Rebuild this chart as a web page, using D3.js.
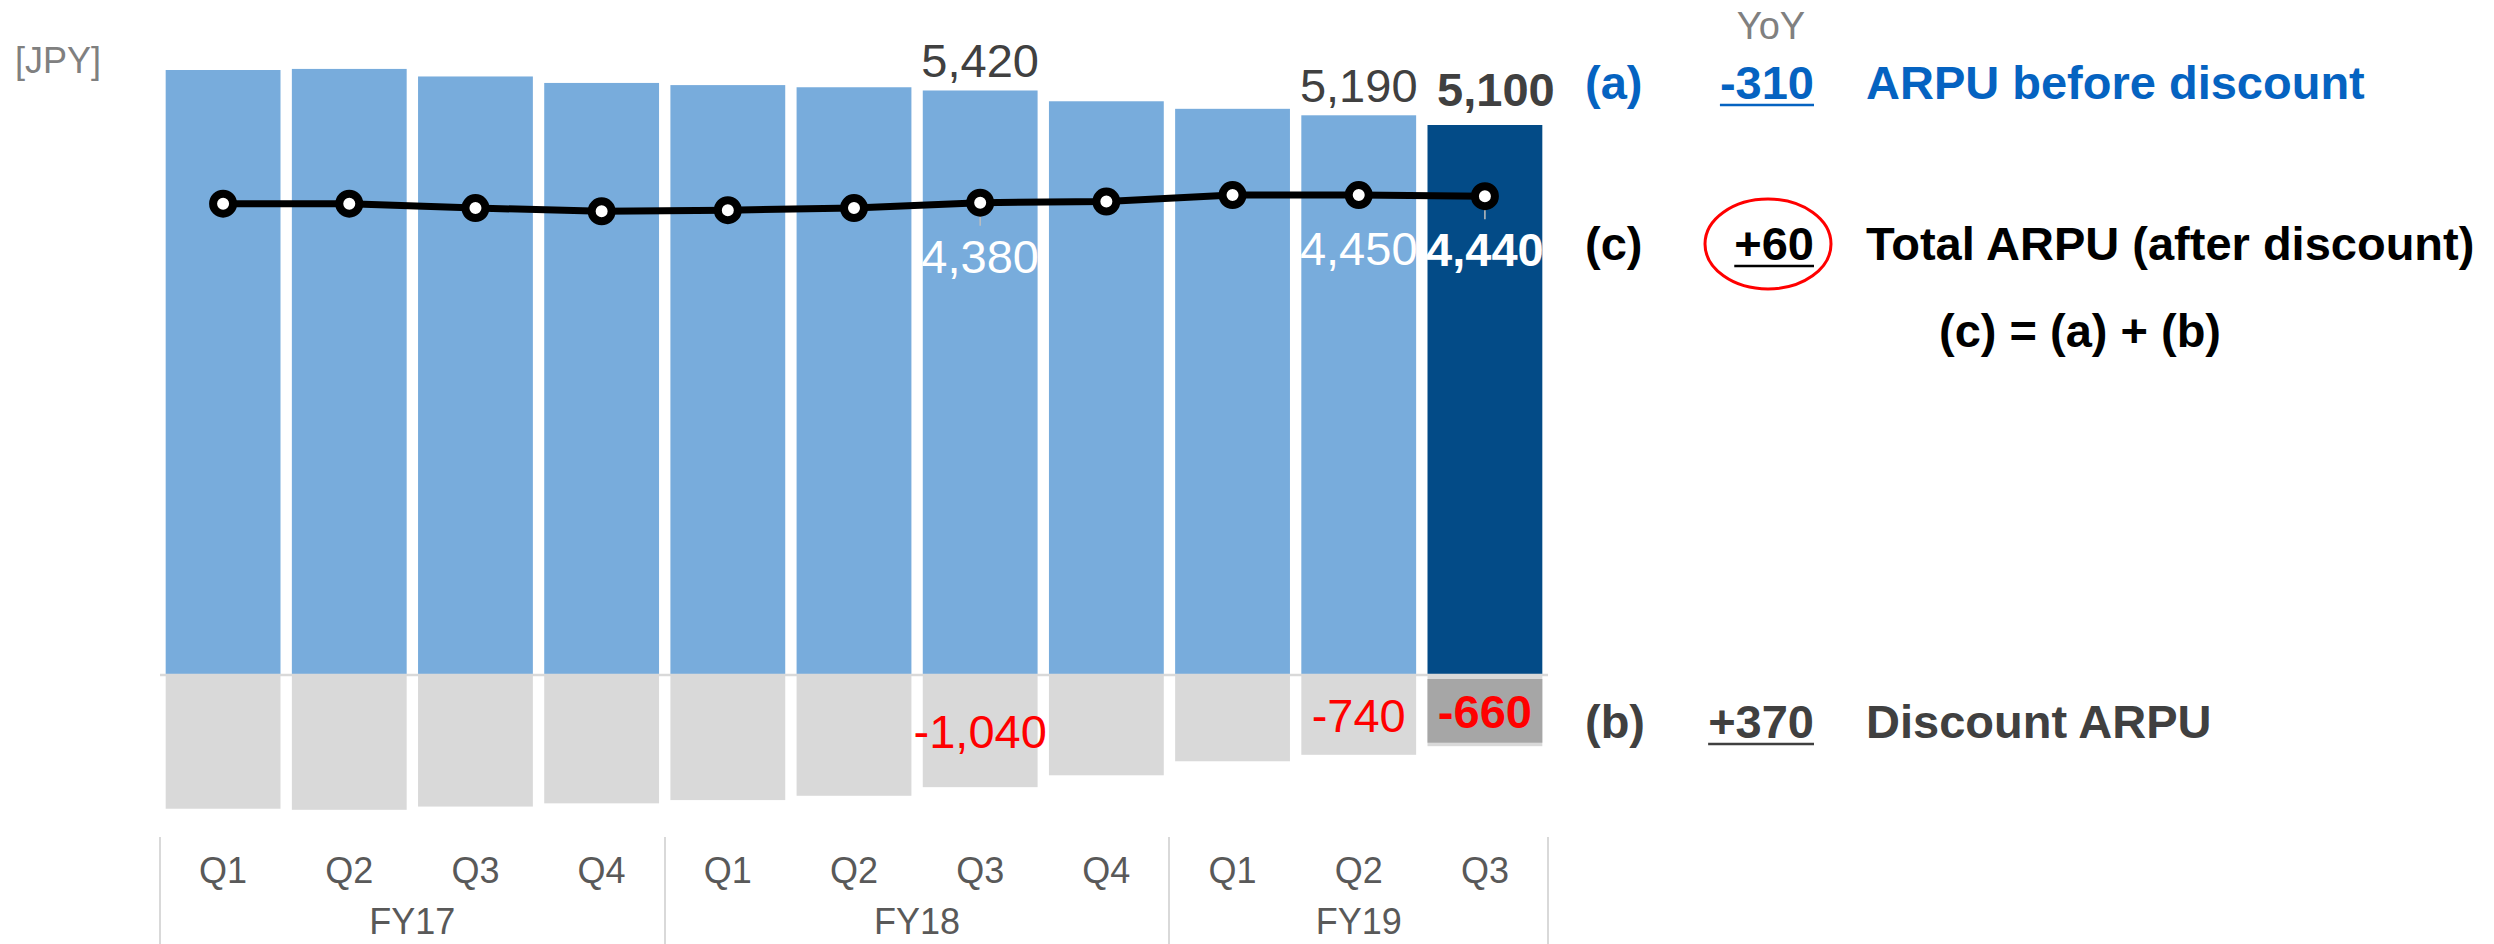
<!DOCTYPE html>
<html>
<head>
<meta charset="utf-8">
<script src="https://cdn.jsdelivr.net/npm/d3@7"></script>
<style>
  body { margin: 0; background: #fff; }
  svg { display: block; font-family: "Liberation Sans", Arial, sans-serif; }
</style>
</head>
<body>
<svg id="chart" width="2494" height="944"></svg>
<script>
// data
const quarters = ["Q1", "Q2", "Q3", "Q4", "Q1", "Q2", "Q3", "Q4", "Q1", "Q2", "Q3"];
const fiscalYears = ["FY17", "FY17", "FY17", "FY17", "FY18", "FY18", "FY18", "FY18", "FY19", "FY19", "FY19"];
const beforeDiscount = [5610, 5620, 5550, 5490, 5470, 5450, 5420, 5320, 5250, 5190, 5100];
const discount = [-1240, -1250, -1220, -1190, -1160, -1120, -1040, -930, -800, -740, -660];
const totalArpu = [4370, 4370, 4330, 4300, 4310, 4330, 4380, 4390, 4450, 4450, 4440];
const labeled = [6, 9, 10];   // quarters with value labels
const current = 10;           // latest quarter, highlighted

const rowKeys = ["(a)", "(c)", "(b)"];
const yoyValues = ["-310", "+60", "+370"];
const rowNames = ["ARPU before discount", "Total ARPU (after discount)", "Discount ARPU"];

const keys = quarters.map((q, i) => fiscalYears[i] + " " + q);
const fmt = d3.formatLocale({ decimal: ".", thousands: ",", grouping: [3], currency: ["", ""], minus: "-" }).format(",");

const svg = d3.select("#chart");

const x = d3.scaleBand().domain(keys).range([160, 1548]).paddingInner(0.09).paddingOuter(0.045);
const y = d3.scaleLinear().domain([-1300, 5700]).range([675 + 1300 * 550 / 5100, 675 - 5700 * 550 / 5100]);
const bw = x.bandwidth();
const gap = x.step() - bw;

// bars
svg.append("g").selectAll("rect").data(beforeDiscount).join("rect")
  .attr("x", (d, i) => x(keys[i]))
  .attr("y", d => y(d))
  .attr("width", bw)
  .attr("height", d => y(0) - y(d))
  .attr("fill", (d, i) => i === current ? "#034b87" : "#78acdc");

svg.append("g").selectAll("rect").data(discount).join("rect")
  .attr("x", (d, i) => x(keys[i]))
  .attr("y", y(0) + 1)
  .attr("width", bw)
  .attr("height", d => y(d) - y(0) - 1)
  .attr("fill", "#d9d9d9");

// zero line
svg.append("line")
  .attr("x1", 160).attr("x2", 1548)
  .attr("y1", y(0)).attr("y2", y(0))
  .attr("stroke", "#d9d9d9").attr("stroke-width", 2.5);

// box behind the current discount label
svg.append("rect")
  .attr("x", x(keys[current]))
  .attr("y", y(0) + 4)
  .attr("width", bw)
  .attr("height", y(discount[current]) - y(0) - 7.5)
  .attr("fill", "#a6a6a6");

// leader lines for the total labels
[6, 10].forEach(i => {
  svg.append("line")
    .attr("x1", x(keys[i]) + bw / 2).attr("x2", x(keys[i]) + bw / 2)
    .attr("y1", y(totalArpu[i])).attr("y2", y(totalArpu[i]) + 23)
    .attr("stroke", "#bfbfbf").attr("stroke-width", 1.5);
});

// total ARPU line
const line = d3.line().x((d, i) => x(keys[i]) + bw / 2).y(d => y(d));
svg.append("path").datum(totalArpu)
  .attr("d", line)
  .attr("fill", "none")
  .attr("stroke", "#000")
  .attr("stroke-width", 7);

svg.append("g").selectAll("circle").data(totalArpu).join("circle")
  .attr("cx", (d, i) => x(keys[i]) + bw / 2)
  .attr("cy", d => y(d))
  .attr("r", 10)
  .attr("fill", "#fff")
  .attr("stroke", "#000")
  .attr("stroke-width", 8);

// value labels
const labels = svg.append("g").attr("font-size", 47).attr("text-anchor", "middle");
labeled.forEach(i => {
  const cx = x(keys[i]) + bw / 2;
  const bold = i === current;
  labels.append("text")
    .attr("x", cx + (bold ? 11 : 0))
    .attr("y", y(beforeDiscount[i]) - (bold ? 19 : 13))
    .attr("fill", "#404040")
    .attr("font-weight", bold ? "bold" : "normal")
    .text(fmt(beforeDiscount[i]));
  labels.append("text")
    .attr("x", cx)
    .attr("y", y(totalArpu[i]) + 70)
    .attr("fill", "#fff")
    .attr("font-weight", bold ? "bold" : "normal")
    .text(fmt(totalArpu[i]));
  labels.append("text")
    .attr("x", cx)
    .attr("y", (y(0) + y(discount[i])) / 2 + 17)
    .attr("fill", "#ff0000")
    .attr("font-weight", bold ? "bold" : "normal")
    .text(fmt(discount[i]));
});

// category axis
const axis = svg.append("g")
  .attr("transform", "translate(0,857)")
  .call(d3.axisBottom(x).tickSize(0).tickPadding(0).tickFormat((d, i) => quarters[i]));
axis.select(".domain").remove();
axis.selectAll("text")
  .attr("font-size", 36)
  .attr("font-family", "\"Liberation Sans\", Arial, sans-serif")
  .attr("fill", "#595959");

const groups = d3.groups(keys.map((k, i) => ({ k, fy: fiscalYears[i] })), d => d.fy);
const bounds = [];
groups.forEach(([fy, items]) => {
  const x0 = x(items[0].k) - gap / 2;
  const x1 = x(items[items.length - 1].k) + bw + gap / 2;
  bounds.push(x0, x1);
  svg.append("text")
    .attr("x", (x0 + x1) / 2)
    .attr("y", 934)
    .attr("text-anchor", "middle")
    .attr("font-size", 36)
    .attr("fill", "#595959")
    .text(fy);
});
svg.append("g").selectAll("line").data(Array.from(new Set(bounds.map(b => Math.round(b))))).join("line")
  .attr("x1", d => d).attr("x2", d => d)
  .attr("y1", 837).attr("y2", 944)
  .attr("stroke", "#d9d9d9").attr("stroke-width", 2);

// unit
svg.append("text")
  .attr("x", 15).attr("y", 73)
  .attr("font-size", 36)
  .attr("fill", "#808080")
  .text("[JPY]");

// YoY panel
svg.append("text")
  .attr("x", 1771).attr("y", 39)
  .attr("text-anchor", "middle")
  .attr("font-size", 38)
  .attr("fill", "#808080")
  .text("YoY");

const rowY = [99, 260, 738];
const rowColor = ["#0563c1", "#000", "#404040"];
rowKeys.forEach((k, i) => {
  svg.append("text")
    .attr("x", 1585).attr("y", rowY[i])
    .attr("font-size", 47)
    .attr("font-weight", "bold")
    .attr("fill", rowColor[i])
    .text(k);
  const v = svg.append("text")
    .attr("x", 1814).attr("y", rowY[i])
    .attr("text-anchor", "end")
    .attr("font-size", 47)
    .attr("font-weight", "bold")
    .attr("fill", rowColor[i])
    .text(yoyValues[i]);
  const w = v.node().getComputedTextLength();
  svg.append("line")
    .attr("x1", 1814 - w).attr("x2", 1814)
    .attr("y1", rowY[i] + 6).attr("y2", rowY[i] + 6)
    .attr("stroke", rowColor[i]).attr("stroke-width", 2.5);
  svg.append("text")
    .attr("x", 1866).attr("y", rowY[i])
    .attr("font-size", 47)
    .attr("font-weight", "bold")
    .attr("fill", rowColor[i])
    .text(rowNames[i]);
});

svg.append("ellipse")
  .attr("cx", 1768).attr("cy", 244)
  .attr("rx", 63).attr("ry", 45)
  .attr("fill", "none")
  .attr("stroke", "#ff0000")
  .attr("stroke-width", 3);

svg.append("text")
  .attr("x", 2080).attr("y", 347)
  .attr("text-anchor", "middle")
  .attr("font-size", 47)
  .attr("font-weight", "bold")
  .attr("fill", "#000")
  .text("(c) = (a) + (b)");
</script>
</body>
</html>
